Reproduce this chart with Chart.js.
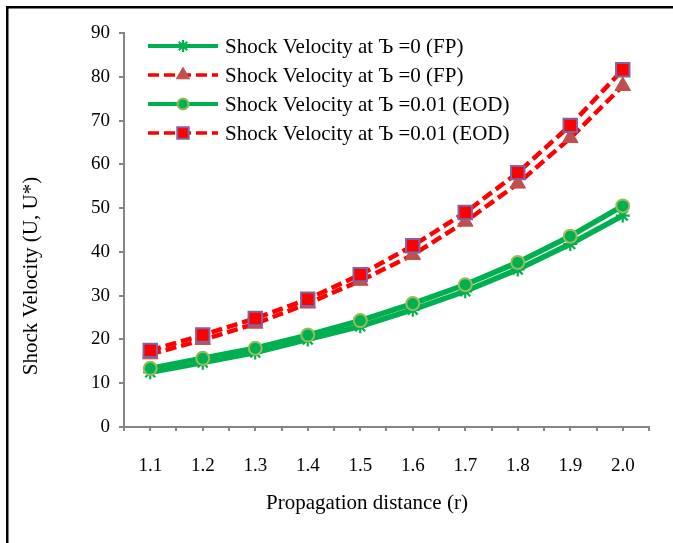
<!DOCTYPE html>
<html>
<head>
<meta charset="utf-8">
<script src="https://cdn.jsdelivr.net/npm/chart.js@4/dist/chart.umd.min.js"></script>
<style>
  html, body { margin: 0; padding: 0; background: #fff; overflow: hidden; }
  canvas { display: block; }
</style>
</head>
<body>
<canvas id="c" width="673" height="543"></canvas>
<script>
// ---- data ----
const xCategories = ['1.1','1.2','1.3','1.4','1.5','1.6','1.7','1.8','1.9','2.0'];
const fpGreen  = [12.5, 14.7, 17.0, 20.0, 23.0, 26.8, 31.0, 36.0, 41.8, 48.3];
const fpRed    = [16.6, 19.9, 23.6, 28.2, 33.4, 39.3, 46.9, 55.6, 66.0, 77.9];
const eodGreen = [13.4, 15.7, 18.0, 21.0, 24.3, 28.2, 32.5, 37.6, 43.6, 50.5];
const eodRed   = [17.5, 21.0, 24.8, 29.2, 34.8, 41.4, 49.0, 58.1, 68.9, 81.6];
const yTicks   = [0, 10, 20, 30, 40, 50, 60, 70, 80, 90];
const legendLabels = [
  'Shock Velocity at \u042A =0 (FP)',
  'Shock Velocity at \u042A =0 (FP)',
  'Shock Velocity at \u042A =0.01 (EOD)',
  'Shock Velocity at \u042A =0.01 (EOD)'
];
const xTitle = 'Propagation distance (r)';
const yTitle = 'Shock Velocity (U, U*)';

const SERIF = "'Liberation Serif', 'Times New Roman', serif";
const GREEN = '#00B050';
const RED = '#FF0000';

function pts(vals) { return xCategories.map((c, i) => ({ x: parseFloat(c), y: vals[i] })); }

const datasets = [
  { label: legendLabels[0], data: pts(fpGreen), borderColor: GREEN, backgroundColor: GREEN,
    borderWidth: 5.5, pointStyle: 'star', pointRadius: 7, pointBorderColor: GREEN,
    pointBackgroundColor: GREEN, pointBorderWidth: 2.2, order: 1 },
  { label: legendLabels[1], data: pts(fpRed), borderColor: RED, backgroundColor: '#C0504D',
    borderWidth: 4.5, borderDash: [11, 5], pointStyle: 'triangle', pointRadius: 9,
    pointBorderColor: '#C0504D', pointBackgroundColor: '#C0504D', pointBorderWidth: 1, order: 1 },
  { label: legendLabels[2], data: pts(eodGreen), borderColor: GREEN, backgroundColor: GREEN,
    borderWidth: 5.5, pointStyle: 'circle', pointRadius: 6.5, pointBorderColor: '#9BBB59',
    pointBackgroundColor: GREEN, pointBorderWidth: 2, order: 0 },
  { label: legendLabels[3], data: pts(eodRed), borderColor: RED, backgroundColor: RED,
    borderWidth: 4.5, borderDash: [11, 5], pointStyle: 'rect', pointRadius: 9.5,
    pointBorderColor: '#8064A2', pointBackgroundColor: RED, pointBorderWidth: 2, order: 0 }
];

const customDraw = {
  id: 'customDraw',
  beforeDraw(chart) {
    const ctx = chart.ctx;
    ctx.save();
    ctx.fillStyle = '#fff';
    ctx.fillRect(0, 0, chart.width, chart.height);
    ctx.fillStyle = '#000';
    ctx.fillRect(6, 6, 2.5, chart.height - 6);
    ctx.fillRect(6, 6, chart.width - 6, 2.5);
    ctx.restore();
  },
  afterDraw(chart) {
    const ctx = chart.ctx;
    const area = chart.chartArea;
    ctx.save();
    // legend
    const x0 = area.left + 24, y0 = area.top + 13, rowH = 29;
    chart.data.datasets.forEach((ds, i) => {
      const y = y0 + i * rowH;
      ctx.save();
      ctx.strokeStyle = ds.borderColor;
      ctx.lineWidth = ds.borderWidth * 0.75;
      ctx.setLineDash(ds.borderDash || []);
      ctx.beginPath();
      ctx.moveTo(x0, y);
      ctx.lineTo(x0 + 70, y);
      ctx.stroke();
      ctx.setLineDash([]);
      ctx.fillStyle = ds.pointBackgroundColor;
      ctx.strokeStyle = ds.pointBorderColor;
      ctx.lineWidth = ds.pointBorderWidth;
      Chart.helpers.drawPoint(ctx, { pointStyle: ds.pointStyle, rotation: 0,
        radius: ds.pointRadius * 0.85, borderWidth: ds.pointBorderWidth }, x0 + 35, y);
      ctx.restore();
      ctx.fillStyle = '#000';
      ctx.font = '21px ' + SERIF;
      ctx.textAlign = 'left';
      ctx.textBaseline = 'middle';
      ctx.fillText(ds.label, x0 + 77, y + 1);
    });
    // axis titles
    ctx.fillStyle = '#000';
    ctx.font = '21px ' + SERIF;
    ctx.textAlign = 'center';
    ctx.textBaseline = 'middle';
    ctx.fillText(xTitle, 367, 503);
    ctx.save();
    ctx.translate(31, 276);
    ctx.rotate(-Math.PI / 2);
    ctx.fillText(yTitle, 0, 0);
    ctx.restore();
    ctx.restore();
  }
};

new Chart(document.getElementById('c'), {
  type: 'line',
  data: { datasets },
  options: {
    responsive: false,
    animation: false,
    devicePixelRatio: 1,
    layout: { padding: { left: 0, top: 33, right: 19, bottom: 0 } },
    plugins: { legend: { display: false }, tooltip: { enabled: false } },
    elements: { line: { tension: 0 } },
    scales: {
      x: {
        type: 'linear', min: 1.05, max: 2.05,
        afterFit(scale) { scale.height = 116; },
        border: { display: true, color: '#868686', width: 2 },
        grid: { drawOnChartArea: false, drawTicks: true, tickLength: 4, color: '#868686', lineWidth: 2 },
        ticks: {
          stepSize: 0.05, autoSkip: false, maxRotation: 0, minRotation: 0, padding: 24,
          color: '#000', font: { family: SERIF, size: 19 },
          callback(value) {
            const c = xCategories.find(s => Math.abs(parseFloat(s) - value) < 1e-6);
            return c === undefined ? '' : c;
          }
        }
      },
      y: {
        type: 'linear', min: yTicks[0], max: yTicks[yTicks.length - 1],
        afterFit(scale) { scale.width = 124; },
        border: { display: true, color: '#868686', width: 2 },
        grid: { drawOnChartArea: false, drawTicks: true, tickLength: 5, color: '#868686', lineWidth: 2 },
        afterBuildTicks(scale) { scale.ticks = yTicks.map(v => ({ value: v })); },
        ticks: { padding: 9, color: '#000', font: { family: SERIF, size: 19 } }
      }
    }
  },
  plugins: [customDraw]
});
</script>
</body>
</html>
